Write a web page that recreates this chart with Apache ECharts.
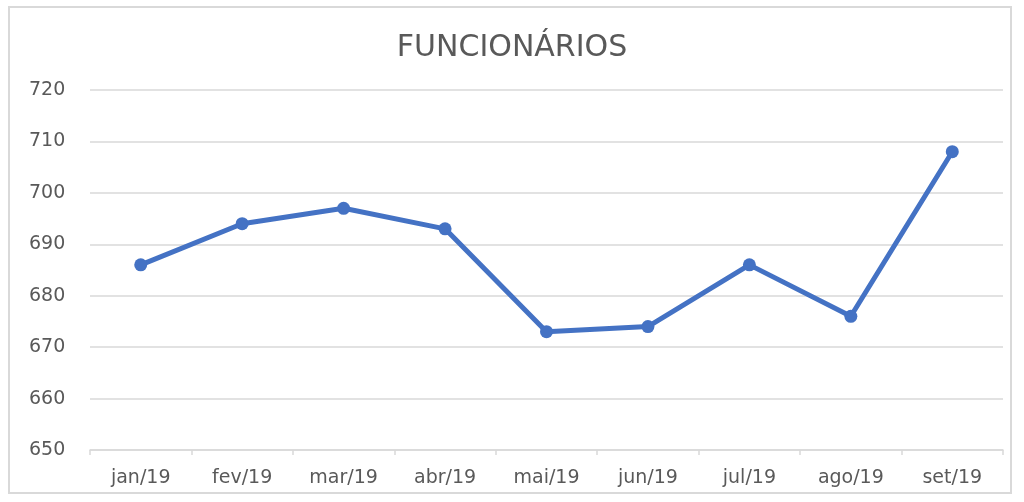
<!DOCTYPE html>
<html><head><meta charset="utf-8">
<script src="https://cdn.jsdelivr.net/npm/echarts@6/dist/echarts.min.js"></script>
<style>html,body{margin:0;padding:0;background:#fff}
#frame{position:absolute;left:8px;top:6px;width:1004px;height:488px;border:2px solid #d9d9d9;box-sizing:border-box}
#c{position:absolute;left:0;top:0;width:1024px;height:502px}</style>
</head><body><div id="frame"></div><div id="c"></div>
<script>
const titleText = 'FUNCIONÁRIOS';
const categories = ['jan/19','fev/19','mar/19','abr/19','mai/19','jun/19','jul/19','ago/19','set/19'];
const values = [686, 694, 697, 693, 673, 674, 686, 676, 708];
const yMin = 650, yMax = 720, yStep = 10;

const chart = echarts.init(document.getElementById('c'));
chart.setOption({
  animation: false,
  title: { text: titleText, left: 'center', top: 28,
    textStyle: { fontFamily: 'DejaVu Sans', fontWeight: 'normal', fontSize: 30, color: '#595959' } },
  grid: { left: 90, right: 21, top: 90, bottom: 52, containLabel: false },
  xAxis: { type: 'category', data: categories, boundaryGap: true,
    axisLine: { lineStyle: { color: '#d9d9d9', width: 1.5 } },
    axisTick: { show: true, length: 5, lineStyle: { color: '#d9d9d9', width: 1.5 } },
    axisLabel: { fontFamily: 'DejaVu Sans', fontSize: 19, color: '#595959', margin: 19 } },
  yAxis: { type: 'value', min: yMin, max: yMax, interval: yStep,
    axisLine: { show: false }, axisTick: { show: false },
    splitLine: { lineStyle: { color: '#d9d9d9', width: 1.5 } },
    axisLabel: { fontFamily: 'DejaVu Sans', fontSize: 19, color: '#595959', margin: 61, align: 'left' } },
  series: [{ type: 'line', data: values, symbol: 'circle', symbolSize: 13,
    lineStyle: { color: '#4472C4', width: 5 }, itemStyle: { color: '#4472C4' } }]
});
</script></body></html>
